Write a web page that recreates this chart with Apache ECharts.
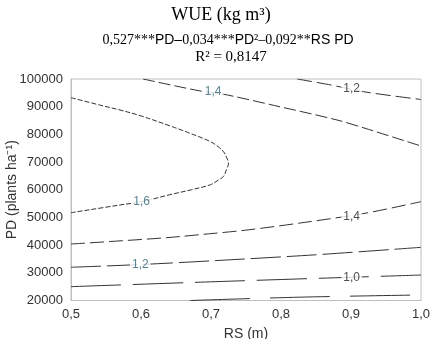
<!DOCTYPE html>
<html>
<head>
<meta charset="utf-8">
<script src="https://cdn.jsdelivr.net/npm/echarts@6/dist/echarts.min.js"></script>
<style>
  html, body { margin: 0; padding: 0; background: #fff; }
  #chart { width: 430px; height: 339px; }
</style>
</head>
<body>
<div id="chart"></div>
<script>
// 等值线数据 (RS, PD)
const c16 = [[0.5, 93250], [0.541, 90600], [0.570, 88800], [0.599, 86750], [0.641, 83100], [0.671, 80300], [0.699, 77400], [0.710, 75600], [0.718, 73700], [0.722, 71800], [0.725, 69600], [0.722, 67300], [0.718, 64900], [0.710, 63400], [0.699, 61800], [0.672, 60000], [0.641, 58200], [0.601, 55700], [0.570, 54500], [0.5, 51700]];
const c14top = [[0.603, 100000], [0.684, 95700], [0.716, 94600], [0.791, 90400], [0.88, 85200], [0.92, 82200], [1.0, 75800]];
const c12top = [[0.823, 100000], [0.872, 97800], [0.918, 95400], [1.0, 92600]];
const c14bot = [[0.5, 40400], [0.556, 41300], [0.637, 42700], [0.706, 44300], [0.753, 45500], [0.825, 47900], [0.92, 51500], [1.0, 55700]];
const c12bot = [[0.5, 32000], [0.6, 33000], [0.706, 34400], [0.849, 36500], [1.0, 39200]];
const c10 = [[0.5, 25000], [0.706, 26800], [0.901, 28400], [1.0, 29200]];
const c08 = [[0.67, 20000], [0.827, 21200], [1.0, 22000]];

// 等值线标签
const contourLabels = [
    { value: [0.703, 95400], text: '1,4' },
    { value: [0.901, 96640], text: '1,2' },
    { value: [0.601, 55700], text: '1,6' },
    { value: [0.901, 50290], text: '1,4' },
    { value: [0.599, 32850], text: '1,2' },
    { value: [0.901, 28410], text: '1,0' }
];
const labelColors = ['#2e6475', '#222', '#2e6475', '#222', '#2e6475', '#222'];

const xTicks = [0.5, 0.6, 0.7, 0.8, 0.9, 1.0];
const yTicks = [20000, 30000, 40000, 50000, 60000, 70000, 80000, 90000, 100000];

const myChart = echarts.init(document.getElementById('chart'));

function contour(data, dash, smooth) {
    return {
        type: 'line',
        data: data,
        smooth: smooth || 0.3,
        symbol: 'none',
        silent: true,
        lineStyle: { color: '#333', width: 1, type: dash }
    };
}

let option = {
    animation: false,
    graphic: [
        {
            type: 'text', x: 221, y: 15,
            style: { text: 'WUE (kg m³)', fill: '#000', font: '18px "Liberation Serif"', align: 'center', verticalAlign: 'middle' }
        },
        {
            type: 'text', x: 228, y: 40,
            style: {
                text: '{s|0,527***}{a|PD–}{s|0,034***}{a|PD}{s|²–0,092**}{a|RS PD}',
                align: 'center', verticalAlign: 'middle',
                rich: {
                    s: { fontFamily: 'Liberation Serif', fontSize: 14, fill: '#000' },
                    a: { fontFamily: 'Liberation Sans', fontSize: 14, fill: '#000' }
                }
            }
        },
        {
            type: 'text', x: 231, y: 57,
            style: { text: 'R² = 0,8147', fill: '#000', font: '15px "Liberation Serif"', align: 'center', verticalAlign: 'middle' }
        }
    ],
    grid: {
        left: 71, right: 9, top: 79, bottom: 38.5,
        outerBoundsMode: 'none',
        show: true, borderColor: '#bfbfbf', borderWidth: 1, backgroundColor: '#fff'
    },
    xAxis: {
        type: 'value',
        min: xTicks[0], max: xTicks[xTicks.length - 1], interval: 0.1,
        name: 'RS (m)', nameLocation: 'middle', nameGap: 27, nameMoveOverlap: false,
        nameTextStyle: { fontFamily: 'Liberation Sans', fontSize: 14, color: '#333' },
        axisLine: { lineStyle: { color: '#bfbfbf' } },
        axisTick: { show: false },
        splitLine: { show: false },
        axisLabel: {
            margin: 7, fontFamily: 'Liberation Sans', fontSize: 13, color: '#333',
            formatter: v => v.toFixed(1).replace('.', ',')
        }
    },
    yAxis: {
        type: 'value',
        min: yTicks[0], max: yTicks[yTicks.length - 1], interval: 10000,
        name: 'PD (plants ha⁻¹)', nameLocation: 'middle', nameGap: 52, nameMoveOverlap: false,
        nameTextStyle: { fontFamily: 'Liberation Sans', fontSize: 14, color: '#333' },
        axisLine: { show: true, lineStyle: { color: '#bfbfbf' } },
        axisTick: { show: false },
        splitLine: { show: false },
        axisLabel: {
            margin: 8, fontFamily: 'Liberation Sans', fontSize: 13, color: '#333',
            formatter: v => String(v)
        }
    },
    series: [
        contour(c16, [5, 2], 0.4),
        contour(c14top, [12, 4]),
        contour(c12top, [15, 5]),
        contour(c14bot, [14, 5]),
        contour(c12bot, [30, 6]),
        contour(c10, [50, 12]),
        contour(c08, [60, 20]),
        {
            type: 'scatter',
            symbolSize: 0,
            silent: true,
            z: 5,
            data: contourLabels.map((d, i) => ({
                value: d.value,
                label: {
                    show: true, position: 'inside', formatter: d.text,
                    fontFamily: 'Liberation Sans', fontSize: 12, color: labelColors[i],
                    backgroundColor: '#fff', padding: [0, 2]
                }
            }))
        }
    ]
};

myChart.setOption(option);
</script>
</body>
</html>
